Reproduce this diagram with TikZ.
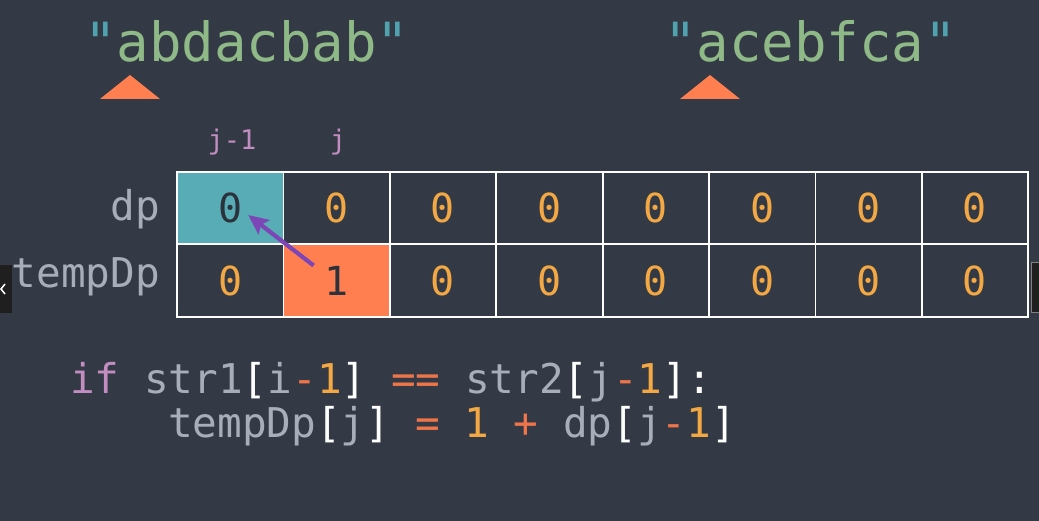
\documentclass[tikz,border=0pt]{standalone}
\usepackage{fontspec}
\setmonofont{DejaVu Sans Mono}
\usetikzlibrary{positioning,arrows.meta}

\definecolor{bgc}{HTML}{333A45}
\definecolor{strc}{HTML}{8FBA88}
\definecolor{quotec}{HTML}{4FA2AE}
\definecolor{markc}{HTML}{FF7F50}
\definecolor{hitc}{HTML}{57ACB5}
\definecolor{numc}{HTML}{F3A843}
\definecolor{darkc}{HTML}{2C323B}
\definecolor{lblc}{HTML}{A7AEBA}
\definecolor{idxc}{HTML}{C28DC0}
\definecolor{arrc}{HTML}{7C46B6}
\definecolor{opc}{HTML}{EE7449}

\newcommand{\fs}[1]{\ttfamily\fontsize{#1}{#1}\selectfont}

\begin{document}
\begin{tikzpicture}[x=1pt,y=-1pt]
  \tikzstyle{cell} = [draw=white, line width=1.8pt, minimum width=106.4pt, minimum height=72.5pt, inner sep=0pt, font=\fs{40}, text=numc]
  \tikzstyle{str} = [anchor=base west, inner sep=0pt, font=\fs{54}, text=strc]
  \tikzstyle{pointer} = [fill=markc, draw=none]
  \tikzstyle{lbl} = [anchor=base east, inner sep=0pt, font=\fs{41}, text=lblc]
  \tikzstyle{idx} = [anchor=base, inner sep=0pt, font=\fs{27}, text=idxc]
  \tikzstyle{code} = [anchor=base west, inner sep=0pt, font=\fs{41}, text=lblc]

  \fill[bgc] (0,0) rectangle (1039,521);
  \useasboundingbox (0,0) rectangle (1039,521);

  % the two strings
  \node[str] (s1) at (84,62) {\textcolor{quotec}{"}abdacbab\textcolor{quotec}{"}};
  \node[str] (s2) at (664,62) {\textcolor{quotec}{"}acebfca\textcolor{quotec}{"}};
  \fill[pointer] (100,99) -- (130,75) -- (160,99) -- cycle;
  \fill[pointer] (680,99) -- (710,75) -- (740,99) -- cycle;

  % dp table
  \node[cell, fill=hitc, text=darkc] (d0) at (230.2,208) {0};
  \foreach \i in {1,...,7}
    \node[cell] (d\i) at ({230.2+106.4*\i},208) {0};
  \node[cell] (t0) at (230.2,280.5) {0};
  \node[cell, fill=markc, text=darkc] (t1) at (336.6,280.5) {1};
  \foreach \i in {2,...,7}
    \node[cell] (t\i) at ({230.2+106.4*\i},280.5) {0};

  \node[lbl] (dplbl) at (160,221) {dp};
  \node[lbl] (tplbl) at (160,288) {tempDp};
  \node[idx] (jm1) at (232,150) {j-1};
  \node[idx] (jj) at (338,150) {j};

  \draw[arrc, line width=4.2pt, -{Stealth[length=20pt,width=18pt,inset=4pt]}]
    ([shift={(-23,-15)}]t1.center) -- ([shift={(18,7)}]d0.center);

  % code
  \node[code] (c1) at (70,393) {\textcolor{idxc}{if} str1\textcolor{white}{[}i\textcolor{opc}{-}\textcolor{numc}{1}\textcolor{white}{]} \textcolor{opc}{==} str2\textcolor{white}{[}j\textcolor{opc}{-}\textcolor{numc}{1}\textcolor{white}{]:}};
  \node[code] (c2) at (168,437) {tempDp\textcolor{white}{[}j\textcolor{white}{]} \textcolor{opc}{=} \textcolor{numc}{1} \textcolor{opc}{+} dp\textcolor{white}{[}j\textcolor{opc}{-}\textcolor{numc}{1}\textcolor{white}{]}};

  % screen edges
  \fill[black!88] (0,265) rectangle (12,313);
  \draw[white, line width=1.5pt] (5,284) -- (1,289) -- (5,294);
  \filldraw[fill=black!88, draw=gray] (1031,262) rectangle (1039,312);
\end{tikzpicture}
\end{document}
